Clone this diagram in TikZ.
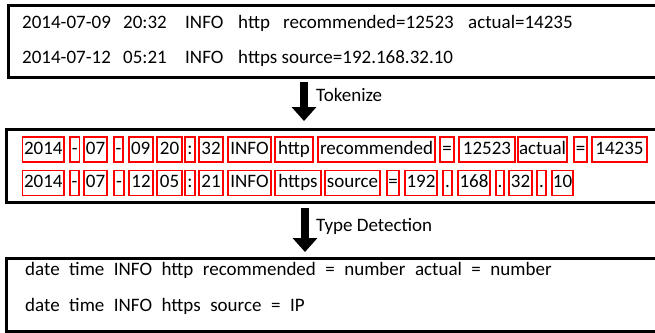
\documentclass[tikz,border=0pt]{standalone}
\usepackage{fontspec}
\setmainfont{Carlito}
\usetikzlibrary{arrows.meta}
\newcommand{\gp}{\hspace{0.5em}}
\begin{document}
\begin{tikzpicture}[x=1pt,y=-1pt,
  frame/.style={draw=black,line width=2.6pt,inner sep=0pt,anchor=north west},
  tok/.style={draw=red,line width=1.6pt,inner sep=0pt,minimum height=25pt,text height=12.5pt,text depth=3.5pt},
  txt/.style={anchor=base west,inner sep=0pt},
  bigarrow/.style={line width=8pt,-{Triangle[width=24pt,length=14pt]}},
  every node/.append style={font=\fontsize{19}{21}\selectfont}]
\clip (0,0) rectangle (655,332);
% frames
\node[frame,minimum width=665pt,minimum height=72pt] (box1) at (7,4) {};
\node[frame,minimum width=667pt,minimum height=73pt] (box2) at (5,128) {};
\node[frame,minimum width=667pt,minimum height=73pt] (box3) at (5,257) {};
% box 1 text
\node[txt] (r1a) at (22,28.5) {2014-07-09};
\node[txt] (r1b) at (123,28.5) {20:32};
\node[txt] (r1c) at (185,28.5) {INFO};
\node[txt] (r1d) at (238,28.5) {http};
\node[txt] (r1e) at (283,28.5) {recommended=12523};
\node[txt] (r1f) at (468,28.5) {actual=14235};
\node[txt] (r2a) at (22,63) {2014-07-12};
\node[txt] (r2b) at (123,63) {05:21};
\node[txt] (r2c) at (185,63) {INFO};
\node[txt] (r2d) at (238,63) {https source=192.168.32.10};
% box 2 tokens, line 1
\node[tok,minimum width=41.3pt] (a1) at (43.3,149.5) {2014};
\node[tok,minimum width=9.3pt] (a2) at (74.7,149.5) {-};
\node[tok,minimum width=23pt] (a3) at (95.5,149.5) {07};
\node[tok,minimum width=9pt] (a4) at (118.5,149.5) {-};
\node[tok,minimum width=24pt] (a5) at (140.7,149.5) {09};
\node[tok,minimum width=25pt] (a6) at (169.5,149.5) {20};
\node[tok,minimum width=10pt] (a7) at (190,149.5) {:};
\node[tok,minimum width=24pt] (a8) at (211,149.5) {32};
\node[tok,minimum width=43pt] (a9) at (249.5,149.5) {INFO};
\node[tok,minimum width=38pt] (a10) at (294,149.5) {http};
\node[tok,minimum width=117pt] (a11) at (376.5,149.5) {recommended};
\node[tok,minimum width=14pt] (a12) at (447,149.5) {=};
\node[tok,minimum width=56pt] (a13) at (487,149.5) {12523};
\node[tok,minimum width=49pt] (a14) at (542.5,149.5) {actual};
\node[tok,minimum width=13pt] (a15) at (580.5,149.5) {=};
\node[tok,minimum width=55pt] (a16) at (619.5,149.5) {14235};
% box 2 tokens, line 2
\node[tok,minimum width=41.3pt] (b1) at (43.3,183) {2014};
\node[tok,minimum width=9pt] (b2) at (74.5,183) {-};
\node[tok,minimum width=23pt] (b3) at (95.5,183) {07};
\node[tok,minimum width=10pt] (b4) at (119,183) {-};
\node[tok,minimum width=24pt] (b5) at (141,183) {12};
\node[tok,minimum width=25pt] (b6) at (169.5,183) {05};
\node[tok,minimum width=10pt] (b7) at (190,183) {:};
\node[tok,minimum width=24pt] (b8) at (211,183) {21};
\node[tok,minimum width=43pt] (b9) at (249.5,183) {INFO};
\node[tok,minimum width=46pt] (b10) at (298,183) {https};
\node[tok,minimum width=55pt] (b11) at (352.5,183) {source};
\node[tok,minimum width=12pt] (b12) at (393,183) {=};
\node[tok,minimum width=32pt] (b13) at (421,183) {192};
\node[tok,minimum width=9pt] (b14) at (447.5,183) {.};
\node[tok,minimum width=32pt] (b15) at (474,183) {168};
\node[tok,minimum width=8pt] (b16) at (500,183) {.};
\node[tok,minimum width=23pt] (b17) at (520.5,183) {32};
\node[tok,minimum width=9pt] (b18) at (541.5,183) {.};
\node[tok,minimum width=21pt] (b19) at (562.5,183) {10};
% box 3 text
\node[txt] (c1) at (25,275) {date\gp time\gp INFO\gp http\gp recommended\gp =\gp number\gp actual\gp =\gp number};
\node[txt] (c2) at (25,311) {date\gp time\gp INFO\gp https\gp source\gp =\gp IP};
% arrows
\coordinate (p1s) at (304,82);
\coordinate (p1e) at (304,121);
\coordinate (p2s) at (305,208);
\coordinate (p2e) at (305,252);
\draw[bigarrow] (p1s) -- (p1e);
\draw[bigarrow] (p2s) -- (p2e);
\node[txt] (l1) at (316,101) {Tokenize};
\node[txt] (l2) at (316,231) {Type Detection};
\end{tikzpicture}
\end{document}
